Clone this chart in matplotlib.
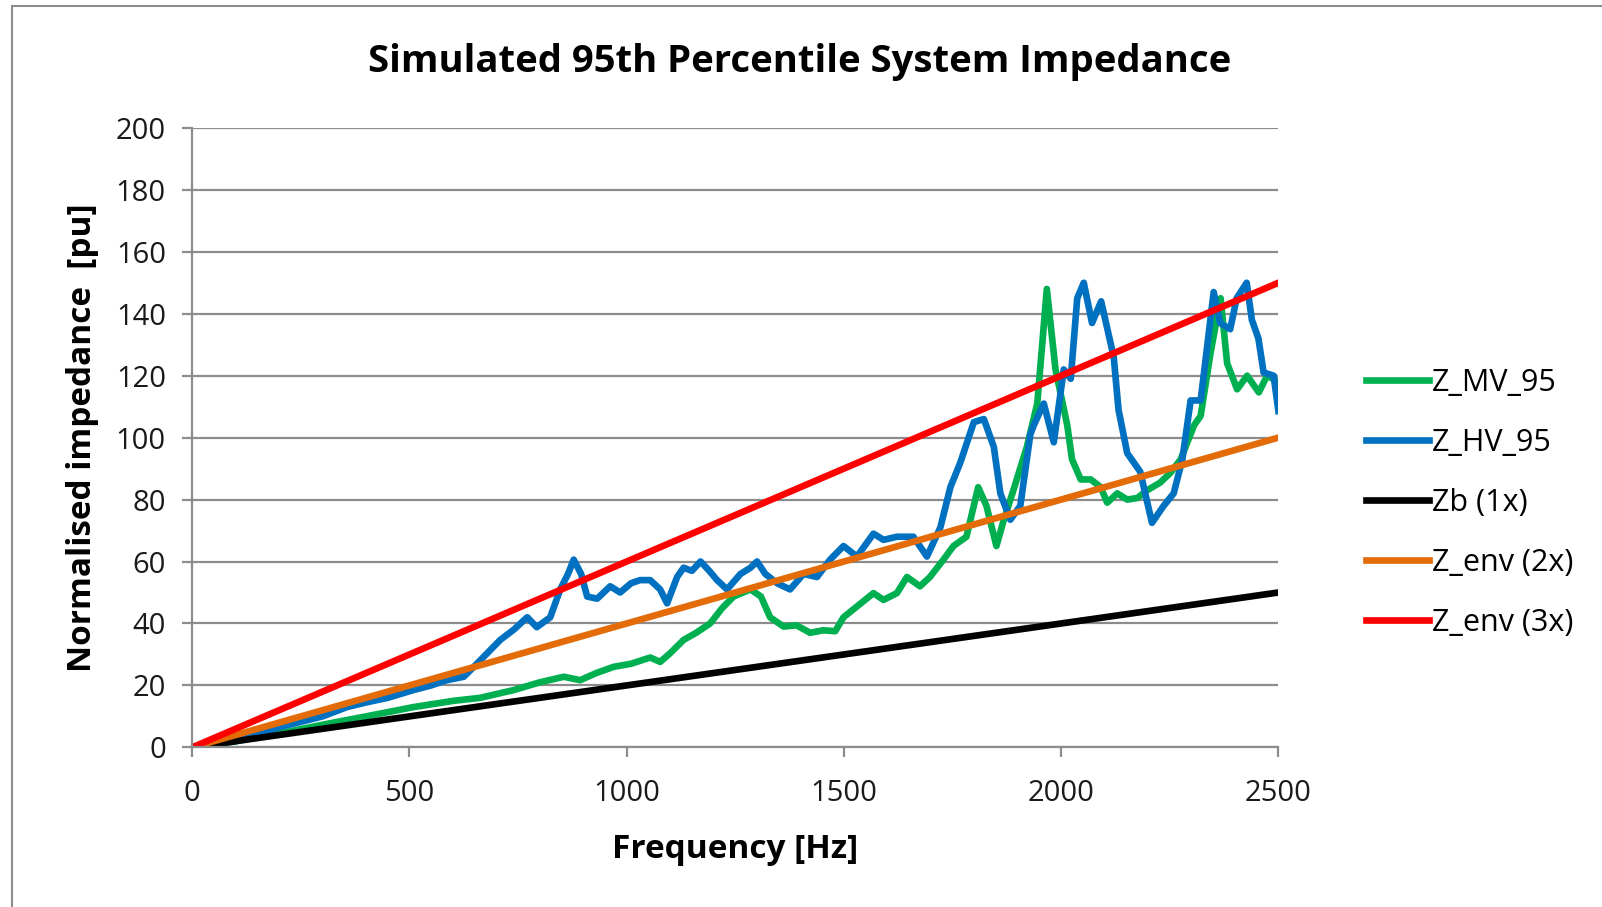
import matplotlib.pyplot as plt
from matplotlib.patches import Rectangle

# series
hv_freq = [0, 100, 200, 300, 356, 400, 450, 509, 550, 586, 625, 648, 679, 709, 740,
           771, 793, 824, 847, 865, 878, 895, 909, 932, 962, 985, 1010, 1031, 1054,
           1077, 1093, 1116, 1131, 1150, 1170, 1190, 1208, 1231, 1262, 1285, 1300,
           1319, 1346, 1376, 1407, 1438, 1468, 1499, 1530, 1568, 1591, 1622, 1660,
           1691, 1722, 1745, 1768, 1799, 1822, 1845, 1860, 1883, 1906, 1929, 1937,
           1960, 1983, 2006, 2022, 2037, 2052, 2071, 2092, 2121, 2132, 2152, 2182,
           2209, 2236, 2259, 2279, 2298, 2321, 2328, 2351, 2366, 2389, 2404, 2427,
           2439, 2454, 2466, 2489, 2500]
hv_vals = [0, 2, 6.5, 10, 13, 14.5, 16, 18.5, 20, 21.7, 22.8, 26, 30.4, 34.7, 38,
           42, 38.8, 42, 51, 56, 60.6, 56, 48.7, 48, 52, 50, 53, 54, 54,
           51, 46.5, 55, 58, 57, 60, 57, 54, 51, 56, 58, 60,
           56, 53, 51, 56, 55, 60.6, 65, 61.6, 69, 67, 68, 68,
           61.6, 71, 84, 92, 105, 106, 97, 82, 73.5, 78, 101, 104,
           111, 98.5, 122, 119, 145, 150, 137, 144, 126, 109, 95, 89,
           72.5, 78, 82, 93, 112, 112, 120, 147, 137, 135, 145, 150,
           138, 132, 121, 120, 108.6]

mv_freq = [0, 100, 200, 318, 400, 509, 600, 663, 740, 800, 855, 893, 930, 970,
           1010, 1054, 1077, 1100, 1131, 1160, 1192, 1220, 1246, 1285, 1309, 1330,
           1361, 1391, 1422, 1453, 1480, 1499, 1530, 1568, 1591, 1622, 1645, 1675,
           1698, 1729, 1752, 1782, 1809, 1828, 1851, 1866, 1890, 1921, 1945, 1967,
           1987, 2014, 2025, 2045, 2068, 2091, 2106, 2129, 2152, 2175, 2198, 2228,
           2252, 2275, 2306, 2321, 2344, 2367, 2382, 2405, 2428, 2455, 2474, 2500]
mv_vals = [0, 2, 4.5, 7.8, 10, 13, 15, 16, 18.5, 21, 22.8, 21.7, 24, 26,
           27, 29, 27.6, 30.4, 34.7, 37, 40, 45, 48.7, 51, 48.7, 42,
           39, 39.4, 37, 37.8, 37.5, 42, 45.5, 49.8, 47.6, 49.8, 55, 52,
           55, 60.6, 65, 68, 84, 78, 65, 72.5, 83, 97, 111, 148,
           122, 104, 93, 86.5, 86.5, 84, 79, 82, 80, 80.5, 83, 85.5,
           88.7, 93, 104, 107, 127.5, 145, 124, 115.6, 120, 114.6, 120, 118]

line_freq = [0, 2500]
zb_vals = [0, 50]
env2_vals = [0, 100]
env3_vals = [0, 150]

fig = plt.figure(figsize=(16.02, 9.07), dpi=100)
ax = fig.add_axes([0.12, 0.176, 0.678, 0.683])

lw = 4.8
ax.plot(mv_freq, mv_vals, color='#00B050', lw=lw, label='Z_MV_95', solid_joinstyle='round')
ax.plot(hv_freq, hv_vals, color='#0070C0', lw=lw, label='Z_HV_95', solid_joinstyle='round')
ax.plot(line_freq, zb_vals, color='black', lw=lw, label='Zb (1x)')
ax.plot(line_freq, env2_vals, color='#E36C09', lw=lw, label='Z_env (2x)')
ax.plot(line_freq, env3_vals, color='#FF0000', lw=lw, label='Z_env (3x)')

ax.set_xlim(0, 2500)
ax.set_ylim(0, 200)
ax.set_xticks(range(0, 2501, 500))
ax.set_yticks(range(0, 201, 20))
ax.grid(axis='y', color='#8c8c8c', lw=1.6)
ax.set_axisbelow(True)
for s in ['top', 'right']:
    ax.spines[s].set_visible(False)
for s in ['left', 'bottom']:
    ax.spines[s].set_color('#8c8c8c')
    ax.spines[s].set_linewidth(1.6)
ax.tick_params(axis='both', color='#8c8c8c', width=1.6, length=7, labelsize=21,
               labelcolor='#1a1a1a')
ax.tick_params(axis='x', pad=16)
ax.tick_params(axis='y', pad=12)
for lab in ax.get_xticklabels() + ax.get_yticklabels():
    lab.set_family('Open Sans')

ax.set_xlabel('Frequency [Hz]', fontsize=24, fontweight='bold', family='Open Sans', labelpad=18)
ax.set_ylabel('Normalised impedance  [pu]', fontsize=24, fontweight='bold', family='Open Sans', labelpad=12)
fig.text(0.499, 0.932, 'Simulated 95th Percentile System Impedance', ha='center', va='center',
         fontsize=27.5, fontweight='bold', family='Open Sans')

leg = ax.legend(loc='center left', bbox_to_anchor=(1.067, 0.395), frameon=False,
                handlelength=2.05, handletextpad=0.1, labelspacing=0.98,
                borderpad=0, prop={'family': 'Open Sans', 'size': 22})

# chart-area border (top and left visible in the reference)
fig.patches.append(Rectangle((12 / 1602, -0.1), 1.2, 1.1 - 6 / 907, transform=fig.transFigure,
                             fill=False, edgecolor='#8c8c8c', lw=1.5, clip_on=False))

fig.savefig('out.png', dpi=100)
